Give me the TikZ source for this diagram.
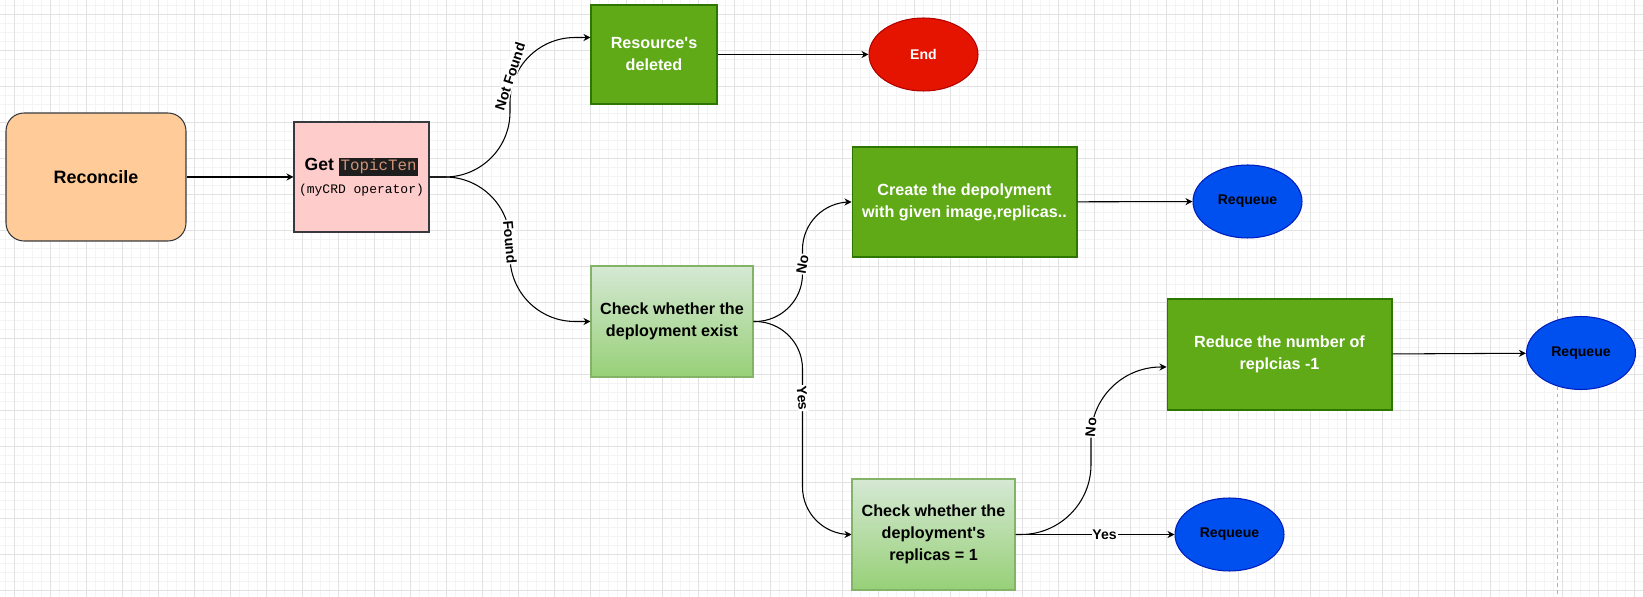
\documentclass[tikz,border=0pt]{standalone}
\usepackage{fontspec}
\setmainfont{Liberation Sans}
\setmonofont{Liberation Mono}
\usetikzlibrary{positioning, calc, arrows.meta, shapes.geometric}
\setlength{\fboxsep}{1pt}

\definecolor{reconcilefill}{HTML}{FFCC99}
\definecolor{boxline}{HTML}{36393D}
\definecolor{getfill}{HTML}{FFCCCC}
\definecolor{actfill}{HTML}{60A917}
\definecolor{actline}{HTML}{2D7600}
\definecolor{chktop}{HTML}{D5E8D4}
\definecolor{chkbottom}{HTML}{97D077}
\definecolor{chkline}{HTML}{82B366}
\definecolor{endfill}{HTML}{E51400}
\definecolor{endline}{HTML}{B20000}
\definecolor{rqfill}{HTML}{0050EF}
\definecolor{rqline}{HTML}{001DBC}
\definecolor{codebg}{HTML}{1E1E1E}
\definecolor{codefg}{HTML}{CE9178}
\definecolor{majorgrid}{HTML}{E2E2E2}
\definecolor{minorgrid}{HTML}{F4F4F4}

\tikzset{
	box/.style={rectangle, inner sep=0pt, line width=0.6pt, align=center, font=\fontsize{9.2}{12.5}\selectfont\bfseries},
	startbox/.style={box, rounded corners=0.36cm, fill=reconcilefill, draw=boxline, minimum width=3.6cm, minimum height=2.56cm, font=\fontsize{10.2}{12}\selectfont\bfseries},
	getbox/.style={box, fill=getfill, draw=boxline, minimum width=2.7cm, minimum height=2.2cm, font=\fontsize{10}{12}\selectfont\bfseries},
	actbox/.style={box, fill=actfill, draw=actline, text=white, minimum height=2.2cm},
	chkbox/.style={box, top color=chktop, bottom color=chkbottom, draw=chkline, minimum height=2.22cm},
	oval/.style={ellipse, inner sep=0pt, line width=0.6pt, minimum width=2.18cm, minimum height=1.46cm, font=\fontsize{8}{9}\selectfont\bfseries},
	endoval/.style={oval, fill=endfill, draw=endline, text=white},
	rqoval/.style={oval, fill=rqfill, draw=rqline},
	link/.style={line width=0.6pt, -{Stealth[length=4pt, width=4pt]}},
	elabel/.style={sharp corners, fill=white, inner sep=0.5pt, font=\fontsize{8}{8.5}\selectfont\bfseries}
}

\begin{document}
\begin{tikzpicture}[x=0.02cm, y=-0.02cm]
	\useasboundingbox (0,0) rectangle (1643,597);
	\fill[white] (0,0) rectangle (1643,597);
	\foreach \i in {0,...,182}
		\draw[minorgrid, line width=0.5pt] ({5.5+9*\i},0) -- ({5.5+9*\i},597);
	\foreach \j in {0,...,65}
		\draw[minorgrid, line width=0.5pt] (0,{5.5+9*\j}) -- (1643,{5.5+9*\j});
	\foreach \i in {0,...,45}
		\draw[majorgrid, line width=0.5pt] ({14.5+36*\i},0) -- ({14.5+36*\i},597);
	\foreach \j in {0,...,16}
		\draw[majorgrid, line width=0.5pt] (0,{14.5+36*\j}) -- (1643,{14.5+36*\j});
	\draw[gray!60, dash pattern=on 2pt off 2pt, line width=0.5pt] (1557,0) -- (1557,597);

	\node[startbox] (rec) at (96,177) {Reconcile};
	\node[getbox] (get) at (361.5,177) {Get \colorbox{codebg}{\textcolor{codefg}{\fontsize{9}{10}\selectfont\ttfamily\mdseries TopicTen}}\\[1pt]{\fontsize{7.4}{9}\selectfont\ttfamily\mdseries (myCRD operator)}};
	\node[actbox, minimum width=2.52cm, minimum height=1.98cm] (res) at (654,54.5) {Resource\textquotesingle s\\deleted};
	\node[endoval] (end) at (923.5,54.5) {End};
	\node[chkbox, minimum width=3.24cm] (chk) at (672,321.5) {Check whether the\\deployment exist};
	\node[actbox, minimum width=4.5cm] (make) at (964.5,202) {Create the depolyment\\with given image,replicas..};
	\node[rqoval] (rqa) at (1247.5,201.5) {Requeue};
	\node[chkbox, minimum width=3.26cm] (cnt) at (933.5,534.5) {Check whether the\\deployment\textquotesingle s\\replicas = 1};
	\node[actbox, minimum width=4.5cm, minimum height=2.22cm] (cut) at (1279.5,354.5) {Reduce the number of\\replcias -1};
	\node[rqoval] (rqb) at (1581,353) {Requeue};
	\node[rqoval] (rqc) at (1229.5,534.5) {Requeue};

	\draw[link] (rec) -- (get);
	\draw[link, rounded corners=1.3cm] (get.east) -- ($(get.east)!0.5!(get.east -| res.west)$) |- node[elabel, pos=0.36, rotate=72] {Not Found} ([yshift=0.34cm]res.west);
	\draw[link, rounded corners=1.3cm] (get.east) -- ($(get.east)!0.5!(get.east -| chk.west)$) |- node[elabel, pos=0.225, rotate=-85] {Found} (chk.west);
	\draw[link] (res) -- (end);
	\draw[link, rounded corners=0.95cm] (chk.east) -- ($(chk.east)!0.5!(chk.east -| make.west)$) |- node[elabel, pos=0.24, rotate=80] {No} (make.west);
	\draw[link, rounded corners=0.95cm] (chk.east) -- ($(chk.east)!0.5!(chk.east -| cnt.west)$) |- node[elabel, pos=0.18, rotate=-85] {Yes} (cnt.west);
	\draw[link] (make) -- (rqa);
	\draw[link, rounded corners=1.4cm] (cnt.east) -- ($(cnt.east)!0.5!(cnt.east -| cut.west)$) |- node[elabel, pos=0.32, rotate=85] {No} ([yshift=-0.25cm]cut.west);
	\draw[link] (cnt) -- node[elabel, pos=0.56] {Yes} (rqc);
	\draw[link] (cut) -- (rqb);
\end{tikzpicture}
\end{document}
